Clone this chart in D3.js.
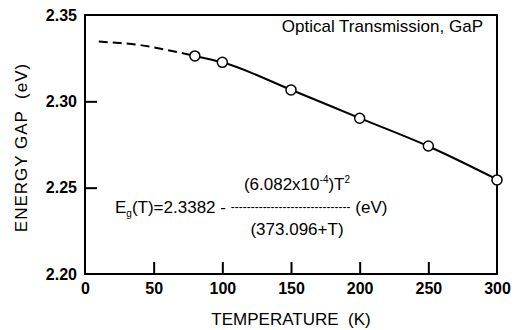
<!DOCTYPE html>
<html>
<head>
<meta charset="utf-8">
<script src="https://cdn.jsdelivr.net/npm/d3@7"></script>
<style>
  body { margin: 0; background: #fff; }
  svg { font-family: "Liberation Sans", Arial, sans-serif; }
</style>
</head>
<body>
<svg width="520" height="330"></svg>
<script>
// Measured points (optical transmission, GaP)
const tempPts = [80, 100, 150, 200, 250, 300];
const gapPts = [2.3263, 2.3226, 2.3066, 2.2902, 2.2741, 2.2545];

// Fitted curve: dashed (extrapolated) and solid parts
const fitDashT = [10, 25, 40, 60, 78];
const fitDashE = [2.3346, 2.3338, 2.3326, 2.3297, 2.3266];
const fitSolidT = [78, 100, 150, 200, 250, 300];
const fitSolidE = [2.3266, 2.3226, 2.3067, 2.2903, 2.2740, 2.2548];

// Tick labels
const xTicks = [0, 50, 100, 150, 200, 250, 300];
const yTicks = [2.20, 2.25, 2.30, 2.35];

const margin = { top: 15, right: 23, bottom: 56, left: 85 },
    width = 520 - margin.left - margin.right,
    height = 330 - margin.top - margin.bottom;

const svg = d3.select("svg")
    .append("g")
    .attr("transform", `translate(${margin.left},${margin.top})`);

const x = d3.scaleLinear().domain([0, 300]).range([0, width]);
const y = d3.scaleLinear().domain([2.20, 2.35]).range([height, 0]);

// Frame
svg.append("rect")
    .attr("width", width)
    .attr("height", height)
    .attr("fill", "none")
    .attr("stroke", "#000")
    .attr("stroke-width", 2);

// Axes with inward ticks
const xAxis = svg.append("g")
    .attr("transform", `translate(0,${height})`)
    .call(d3.axisBottom(x).tickValues(xTicks).tickFormat(d3.format("d"))
        .tickSizeInner(-12).tickSizeOuter(0).tickPadding(9));

const yAxis = svg.append("g")
    .call(d3.axisLeft(y).tickValues(yTicks).tickFormat(d3.format(".2f"))
        .tickSizeInner(-12).tickSizeOuter(0).tickPadding(8));

[xAxis, yAxis].forEach(g => {
    g.select(".domain").remove();
    g.selectAll(".tick line").attr("stroke-width", 2);
    g.selectAll(".tick text")
        .style("font-family", "'Liberation Sans', Arial, sans-serif")
        .style("font-size", "16px")
        .style("font-weight", "bold")
        .attr("fill", "#000");
});
// no inner tick marks at the corners
xAxis.selectAll(".tick").filter(d => d === 0 || d === 300).select("line").remove();
yAxis.selectAll(".tick").filter(d => d === 2.20 || d === 2.35).select("line").remove();

// Axis titles
svg.append("text")
    .attr("x", width / 2)
    .attr("y", height + 51)
    .attr("text-anchor", "middle")
    .style("font-size", "17px")
    .style("white-space", "pre")
    .text("TEMPERATURE  (K)");

svg.append("text")
    .attr("transform", "rotate(-90)")
    .attr("x", -height / 2 - 3)
    .attr("y", -margin.left + 27)
    .attr("text-anchor", "middle")
    .style("font-size", "17px")
    .style("letter-spacing", "1px")
    .style("white-space", "pre")
    .text("ENERGY GAP  (eV)");

// Label
svg.append("text")
    .attr("x", width - 14)
    .attr("y", 17)
    .attr("text-anchor", "end")
    .style("font-size", "17px")
    .text("Optical Transmission, GaP");

// Fitted curve
const lineDash = d3.line()
    .x((d, i) => x(fitDashT[i]))
    .y((d, i) => y(fitDashE[i]))
    .curve(d3.curveMonotoneX);

const lineSolid = d3.line()
    .x((d, i) => x(fitSolidT[i]))
    .y((d, i) => y(fitSolidE[i]))
    .curve(d3.curveMonotoneX);

svg.append("path")
    .datum(fitDashT)
    .attr("fill", "none")
    .attr("stroke", "#000")
    .attr("stroke-width", 2)
    .attr("stroke-dasharray", "9,5")
    .attr("d", lineDash);

svg.append("path")
    .datum(fitSolidT)
    .attr("fill", "none")
    .attr("stroke", "#000")
    .attr("stroke-width", 2)
    .attr("d", lineSolid);

// Data points
svg.selectAll("circle")
    .data(tempPts)
    .enter().append("circle")
    .attr("cx", d => x(d))
    .attr("cy", (d, i) => y(gapPts[i]))
    .attr("r", 5)
    .attr("fill", "#fff")
    .attr("stroke", "#000")
    .attr("stroke-width", 1.5);

// Equation
const eq = svg.append("g").style("font-size", "17px");

const num = eq.append("text")
    .attr("x", 212)
    .attr("y", 175)
    .attr("text-anchor", "middle");
num.append("tspan").text("(6.082x10");
num.append("tspan").attr("dy", -7).style("font-size", "10px").text("-4");
num.append("tspan").attr("dy", 7).text(")T");
num.append("tspan").attr("dy", -7).style("font-size", "10px").text("2");

const main = eq.append("text")
    .attr("x", 30)
    .attr("y", 198)
    .style("white-space", "pre");
main.append("tspan").text("E");
main.append("tspan").attr("dy", 4).style("font-size", "10px").text("g");
main.append("tspan").attr("dy", -4).text("(T)=2.3382 - ");
main.append("tspan").style("font-size", "12px").attr("dy", -2).text("------------------------------");
main.append("tspan").attr("dy", 2).text(" (eV)");

eq.append("text")
    .attr("x", 212)
    .attr("y", 220)
    .attr("text-anchor", "middle")
    .text("(373.096+T)");
</script>
</body>
</html>
